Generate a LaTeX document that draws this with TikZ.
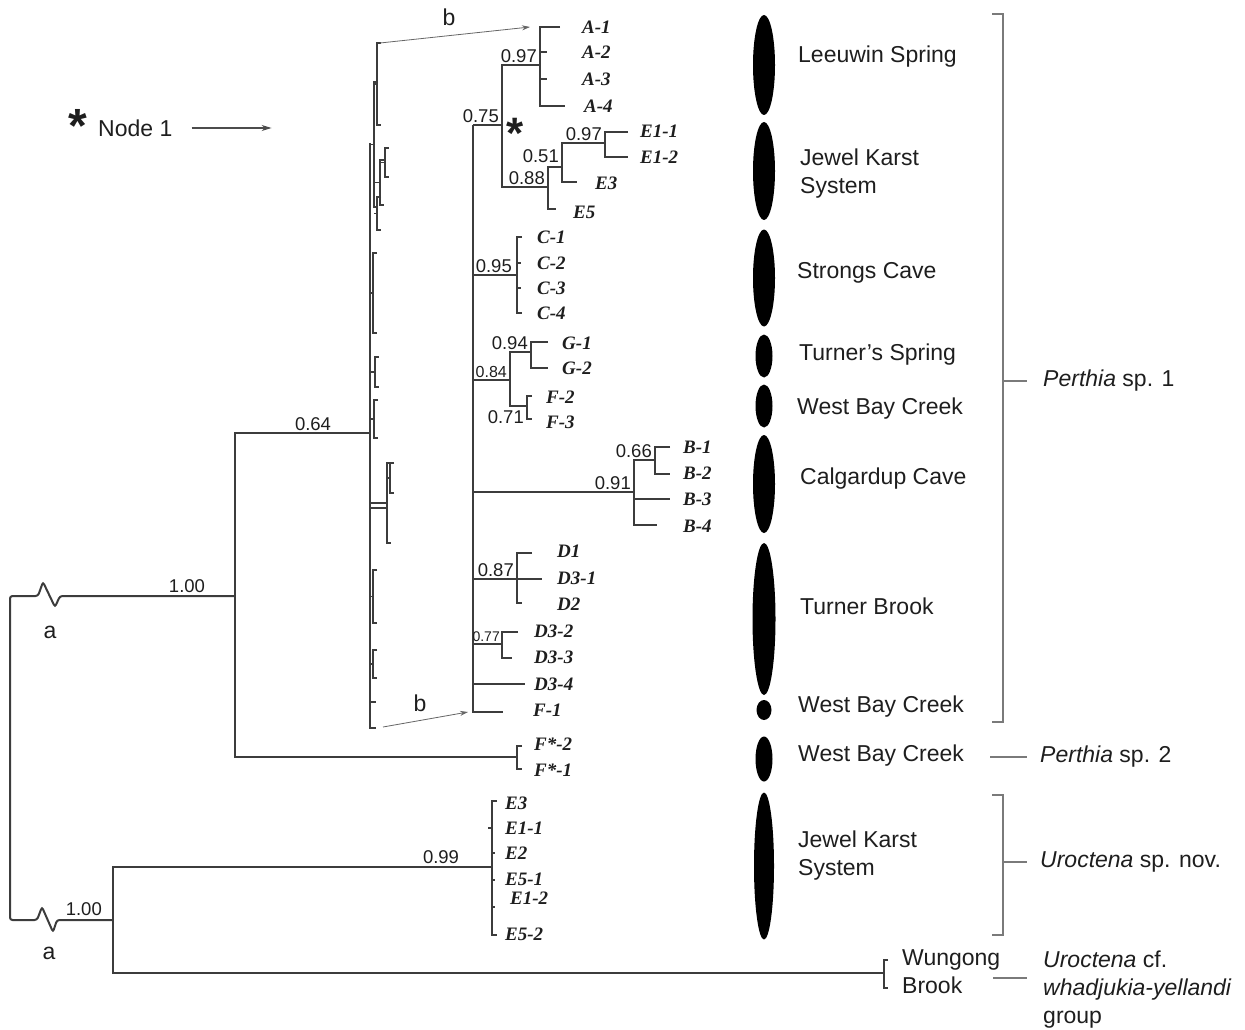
\documentclass[tikz,border=0pt]{standalone}
\usepackage{fontspec}
\setmainfont{Liberation Sans}
\newfontfamily\leaffont{Liberation Serif}
\usepackage{tikz}
\usetikzlibrary{arrows.meta,positioning,calc,shapes.geometric}
\definecolor{treegray}{HTML}{3C3C3C}
\definecolor{brackgray}{HTML}{7A7A7A}
\definecolor{inkgray}{HTML}{1E1E1E}

\begin{document}
\begin{tikzpicture}[x=1pt, y=-1pt,
  br/.style={line width=2pt, draw=treegray},
  mini/.style={line width=1.3pt, draw=treegray},
  brk/.style={line width=1.8pt, draw=brackgray},
  ptr/.style={-{Stealth[length=8pt,width=5pt]}, line width=0.8pt, draw=black!60},
  leaf/.style={font=\leaffont\bfseries\itshape\fontsize{19}{19}\selectfont, anchor=west, inner sep=0pt, text=inkgray},
  pp/.style={font=\fontsize{18.5}{18.5}\selectfont, anchor=south east, inner sep=0pt, text=inkgray},
  loc/.style={font=\fontsize{23}{28}\selectfont, anchor=west, align=left, inner sep=0pt, text=inkgray},
  blob/.style={ellipse, fill=black, inner sep=0pt}
]
\useasboundingbox (0,0) rectangle (1245,1030);

% leaf tips of the expanded tree
\foreach \n/\x/\y in {A1/560/27, A2/547/52, A3/547/79, A4/565/106,
    E11/628/132, E12/628/157, E3/577/182, E5/556/209,
    C1/522/237, C2/521/263, C3/521/288, C4/522/313,
    G1/548/342, G2/548/368, F2/532/396, F3/532/419,
    B1/670/447, B2/670/474, B3/670/499, B4/657/525,
    D1/532/553, D31/542/579, D2/522/603, D32/518/632, D33/512/658,
    D34/525/684, F1/503/712, Fs2/522/746, Fs1/522/769,
    UE3/497/801, UE52/497/935, W1/888/960, W2/888/988}
  \coordinate (t\n) at (\x,\y);

% internal nodes
\coordinate (sp) at (473,125);
\coordinate (n1) at (502,125);
\coordinate (nA) at (540,65);
\coordinate (nE1) at (605,143);
\coordinate (nE2) at (562,167);
\coordinate (nE) at (548,187);
\coordinate (nC) at (517,275);
\coordinate (nGF) at (510,380);
\coordinate (nG) at (531,352);
\coordinate (nF) at (527,406);
\coordinate (nB) at (634,492);
\coordinate (nB1) at (655,460);
\coordinate (nD) at (517,579);
\coordinate (nD3) at (502,644);
\coordinate (mini) at (370,433);
\coordinate (nP) at (235,596);
\coordinate (nFs) at (517,757);
\coordinate (nU) at (113,920);
\coordinate (nU1) at (492,867);
\coordinate (nW) at (884,973);

% expanded Perthia sp. 1 clade
\draw[br] (sp) -- (n1);
\draw[br] (sp) -- (sp |- tF1) -- (tF1);
\draw[br] (nA) -| (n1) |- (nE);
\draw[br] (tA1) -| (nA) |- (tA4);
\draw[br] (nA |- tA2) -- (tA2);
\draw[br] (nA |- tA3) -- (tA3);
\draw[br] (tE11) -| (nE1) |- (tE12);
\draw[br] (nE1) -| (nE2) |- (tE3);
\draw[br] (nE2) -| (nE) |- (tE5);
\draw[br] (sp |- nC) -- (nC);
\draw[br] (tC1) -| (nC) |- (tC4);
\draw[br] (nC |- tC2) -- (tC2);
\draw[br] (nC |- tC3) -- (tC3);
\draw[br] (sp |- nGF) -- (nGF);
\draw[br] (nG) -| (nGF) |- (nF);
\draw[br] (tG1) -| (nG) |- (tG2);
\draw[br] (tF2) -| (nF) |- (tF3);
\draw[br] (sp |- nB) -- (nB);
\draw[br] (nB1) -| (nB) |- (tB4);
\draw[br] (nB |- tB3) -- (tB3);
\draw[br] (tB1) -| (nB1) |- (tB2);
\draw[br] (sp |- nD) -- (tD31);
\draw[br] (tD1) -| (nD) |- (tD2);
\draw[br] (sp |- nD3) -- (nD3);
\draw[br] (tD32) -| (nD3) |- (tD33);
\draw[br] (sp |- tD34) -- (tD34);

% collapsed copy of the same clade
\draw[mini] (370,143) -- (370,728) -- (376,728);
\draw[mini] (370,508) -- (387,508);
\draw[mini] (370,702) -- (376,702);
\foreach \p/\x/\ya/\yb in {374/377/43/125, 370/374/82/207, 380/385/148/177,
    374/380/160/205, 374/377/197/230, 370/373/253/333, 370/375/357/387,
    370/374/400/438, 387/390/463/493, 370/387/463/543, 370/373/570/623,
    370/373/650/678}
{
  \draw[mini] (\x+4,\ya) -| (\x,\yb) -- ++(4,0);
  \draw[mini] (\p,{(\ya+\yb)/2}) -- (\x,{(\ya+\yb)/2});
}

% rest of the tree
\draw[br] (mini) -| (nP) |- (nFs);
\draw[br] (tFs2) -| (nFs) |- (tFs1);
\draw[br, rounded corners=2.5pt] (nP) -- (60,596) -- (55,607) -- (43,582) -- (38,596)
  -- (10,596) -- (10,920) -- (37,920) -- (42,907) -- (53,932) -- (57,920) -- (nU);
\draw[br] (nU1) -| (nU) |- (nW);
\draw[br] (tUE3) -| (nU1) |- (tUE52);
\foreach \y in {853,880,907} \draw[mini] (492,\y) -- (495,\y);
\draw[mini] (488,828) -- (492,828);
\draw[br] (tW1) -| (nW) |- (tW2);

% leaf names
\foreach \n/\x/\y/\t in {A1/582/27/A-1, A2/582/52/A-2, A3/582/79/A-3, A4/584/106/A-4,
    E11/640/131/E1-1, E12/640/157/E1-2, E3/595/183/E3, E5/573/212/E5,
    C1/537/237/C-1, C2/537/263/C-2, C3/537/288/C-3, C4/537/313/C-4,
    G1/562/343/G-1, G2/562/368/G-2, F2/546/397/F-2, F3/546/422/F-3,
    B1/683/447/B-1, B2/683/473/B-2, B3/683/499/B-3, B4/683/526/B-4,
    D1/557/551/D1, D31/557/578/D3-1, D2/557/604/D2, D32/534/631/D3-2,
    D33/534/657/D3-3, D34/534/684/D3-4, F1/533/710/F-1,
    Fs2/534/744/F*-2, Fs1/534/770/F*-1,
    UE3/505/803/E3, UE11/505/828/E1-1, UE2/505/853/E2, UE51/505/879/E5-1,
    UE12/510/898/E1-2, UE52/505/934/E5-2}
  \node[leaf] (l\n) at (\x,\y) {\t};

% posterior probabilities
\foreach \x/\y/\t [count=\i] in {537/63/0.97, 499/123/0.75, 602/141/0.97, 559/163/0.51,
    545/185/0.88, 512/273/0.95, 528/350/0.94, 652/458/0.66, 631/490/0.91,
    514/577/0.87, 102/916/1.00}
  \node[pp] (pp\i) at (\x,\y) {\t};
\node[pp, font=\fontsize{16}{16}\selectfont] (pp84) at (507,378) {0.84};
\node[pp, font=\fontsize{14}{14}\selectfont] (pp77) at (500,642) {0.77};
\node[pp, anchor=east] (pp71) at (524,417) {0.71};
\node[pp, anchor=south] (pp64) at (313,431) {0.64};
\node[pp, anchor=south] (pp100) at (187,593) {1.00};
\node[pp, anchor=south] (pp99) at (441,864) {0.99};

% breaks and pointers
\node[loc, anchor=center] (a1) at (50,632) {a};
\node[loc, anchor=center] (a2) at (49,953) {a};
\node[loc, anchor=center] (b1) at (449,17) {b};
\node[loc, anchor=center] (b2) at (420,703) {b};
\coordinate (miniTop) at (380,43);
\coordinate (miniBot) at (383,727);
\draw[ptr] (miniTop) -- ([xshift=-30pt]tA1);
\draw[ptr] (miniBot) -- ([xshift=-35pt]tF1);
\node[font=\bfseries\fontsize{48}{48}\selectfont, inner sep=0pt, text=inkgray] (ast1) at (78,126) {*};
\node[loc] (node1) at (98,128) {Node 1};
\draw[ptr, -{Stealth[length=10pt,width=6pt]}, line width=1.1pt, draw=black!70] ([xshift=19pt]node1.east) -- ++(80pt,0);
\node[font=\bfseries\fontsize{44}{44}\selectfont, inner sep=0pt, text=inkgray] (ast2) at (515,133) {*};

% localities
\foreach \n/\y/\h/\w in {LS/65/100/22, JK/171/98/22, SC/278/97/22, TS/356/43/17,
    WB1/406/43/17, CC/484/98/22, TB/619/152/23, WB2/710/20/15, WB3/759/45/17,
    JK2/866/147/20}
  \node[blob, minimum width=\w pt, minimum height=\h pt] (e\n) at (764,\y) {};
\node[loc] (l1) at (798,57) {Leeuwin Spring};
\node[loc] (l2) at (800,174) {Jewel Karst\\System};
\node[loc] (l3) at (797,273) {Strongs Cave};
\node[loc] (l4) at (799,355) {Turner's Spring};
\node[loc] (l5) at (797,409) {West Bay Creek};
\node[loc] (l6) at (800,479) {Calgardup Cave};
\node[loc] (l7) at (800,606) {Turner Brook};
\node[loc] (l8) at (798,707) {West Bay Creek};
\node[loc] (l9) at (798,756) {West Bay Creek};
\node[loc] (l10) at (798,856) {Jewel Karst\\System};
\node[loc] (l11) at (902,972) {Wungong\\Brook};

% species brackets
\node[loc] (s1) at (1043,381) {\textit{Perthia} sp. 1};
\node[loc] (s2) at (1040,757) {\textit{Perthia} sp. 2};
\node[loc] (s3) at (1040,862) {\textit{Uroctena} sp. nov.};
\node[loc] (s4) at (1043,990) {\textit{Uroctena} cf.\\\textit{whadjukia-yellandi}\\group};
\coordinate (k1t) at (1003,14);
\coordinate (k1b) at (1003,722);
\coordinate (k2t) at (1003,795);
\coordinate (k2b) at (1003,935);
\draw[brk] ([xshift=-11pt]k1t) -- (k1t) -- (k1b) -- ([xshift=-11pt]k1b);
\draw[brk] (k1t |- s1) -- ([xshift=-16pt]s1.west);
\draw[brk] ([xshift=-11pt]k2t) -- (k2t) -- (k2b) -- ([xshift=-11pt]k2b);
\draw[brk] (k2t |- s3) -- ([xshift=-13pt]s3.west);
\draw[brk] ([xshift=-50pt]s2.west) -- ([xshift=-13pt]s2.west);
\draw[brk] ([shift={(-50pt,12pt)}]s4.west) -- ([shift={(-16pt,12pt)}]s4.west);
\end{tikzpicture}
\end{document}
